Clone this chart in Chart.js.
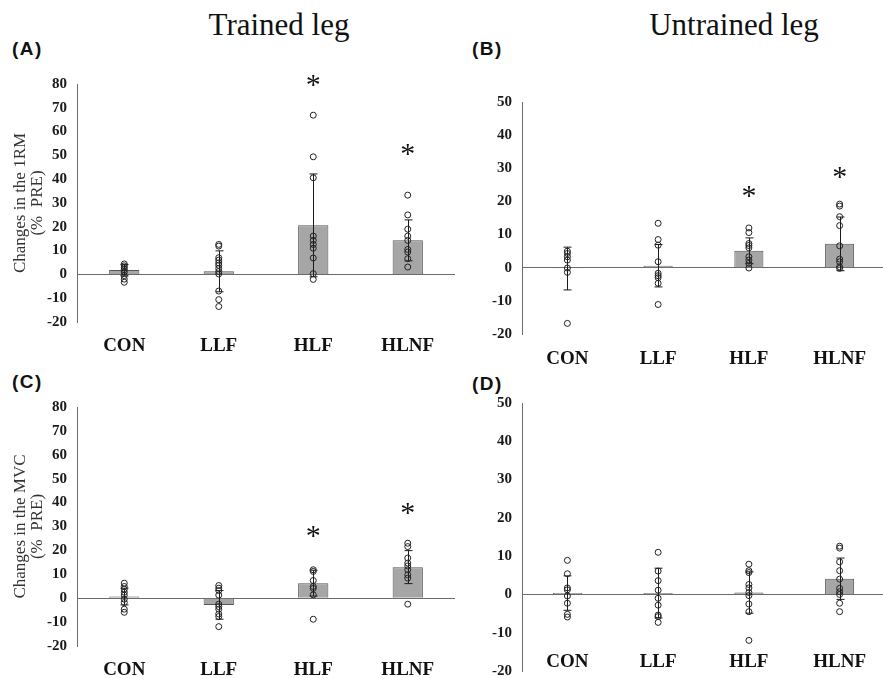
<!DOCTYPE html>
<html>
<head>
<meta charset="utf-8">
<script src="https://cdn.jsdelivr.net/npm/chart.js@4.4.0/dist/chart.umd.min.js"></script>
<style>
body { margin: 0; background: #fff; }
#page { position: relative; width: 883px; height: 678px; overflow: hidden; background: #fff; }
.box { position: absolute; }
.head { position: absolute; width: 200px; text-align: center; font-family: 'Liberation Serif', serif; font-size: 31px; line-height: 31px; color: #111; }
.tag { position: absolute; font-family: 'Liberation Sans', Arial, sans-serif; font-weight: bold; font-size: 19px; line-height: 19px; letter-spacing: 1.5px; color: #111; }
</style>
</head>
<body>
<div id="page">
  <div class="head" style="left:179px;top:9px">Trained leg</div>
  <div class="head" style="left:634px;top:9px">Untrained leg</div>
  <div class="tag" style="left:12px;top:39px">(A)</div>
  <div class="tag" style="left:472px;top:39px">(B)</div>
  <div class="tag" style="left:12px;top:372px">(C)</div>
  <div class="tag" style="left:472px;top:374px">(D)</div>

  <div class="box" style="left:0px;top:60px;width:460px;height:300px"><canvas id="chartA"></canvas></div>
  <div class="box" style="left:445px;top:60px;width:445px;height:310px"><canvas id="chartB"></canvas></div>
  <div class="box" style="left:0px;top:360px;width:460px;height:318px"><canvas id="chartC"></canvas></div>
  <div class="box" style="left:445px;top:360px;width:445px;height:330px"><canvas id="chartD"></canvas></div>
</div>

<script>
const groups = ['CON', 'LLF', 'HLF', 'HLNF'];

// (A) trained leg, 1RM
const meanA = [1.8, 1.3, 20.6, 14.3];
const sdA = [2.4, 8.6, 21.6, 8.6];
const ptsA = [
  [4.4, 3.6, 2.8, 2.0, 1.0, -0.5, -2.0, -3.3],
  [12.6, 11.9, 7.0, 6.0, 4.8, 3.8, 2.5, 1.2, 0.2, -7.0, -10.6, -13.5],
  [66.9, 49.4, 40.6, 16.1, 14.3, 12.6, 11.0, 6.9, 0.3, -2.1],
  [33.3, 25.0, 19.0, 16.1, 14.3, 10.5, 9.4, 6.6, 3.1]
];
const starA = [null, null, 82.5, 53.4];

// (B) untrained leg, 1RM
const meanB = [-0.25, 0.6, 5.1, 7.2];
const sdB = [6.45, 6.4, 3.9, 8.1];
const ptsB = [
  [5.0, 4.3, 3.3, 2.3, -0.1, -1.4, -16.8],
  [13.4, 8.5, 6.8, 1.8, -1.7, -2.4, -3.0, -4.7, -11.1],
  [12.0, 10.6, 7.3, 6.7, 6.0, 3.3, 2.3, 1.3, -0.1],
  [19.2, 18.6, 15.4, 12.7, 6.6, 2.6, 1.8, 0.3, -0.2]
];
const starB = [null, null, 23.9, 29.4];

// (C) trained leg, MVC
const meanC = [0.7, -2.8, 6.3, 13.0];
const sdC = [3.5, 6.0, 5.4, 6.9];
const ptsC = [
  [6.3, 4.9, 3.8, 2.5, 1.3, -0.4, -1.8, -4.6, -5.9],
  [5.3, 4.2, 3.2, 1.3, -2.5, -3.5, -4.6, -6.6, -7.7, -11.9],
  [11.9, 11.2, 7.4, 4.9, 4.1, 1.4, -8.8],
  [23.0, 21.6, 16.8, 14.7, 13.5, 11.9, 9.8, 8.4, -2.5]
];
const starC = [null, null, 29.1, 38.4];

// (D) untrained leg, MVC
const meanD = [0.35, 0.35, 0.5, 4.1];
const sdD = [4.5, 6.5, 5.4, 5.4];
const ptsD = [
  [8.9, 5.4, 1.7, 1.2, -0.4, -2.3, -5.2, -5.9],
  [11.0, 6.1, 3.6, 1.1, -1.0, -2.8, -5.4, -5.8, -7.3],
  [7.9, 6.2, 5.7, 2.6, 1.7, 0.5, -0.3, -2.5, -4.5, -12.0],
  [12.6, 12.1, 8.5, 6.2, 4.0, 1.6, 0.7, 0.0, -2.3, -4.5]
];
const starD = [null, null, null, null];

function makePanel(id, mean, sd, pts, stars, cfg) {
  // error bars + asterisks drawn on the chart's own scales
  const marks = {
    id: 'marks_' + id,
    afterDatasetDraw(chart, args) {
      if (args.index !== 0) return;
      const c = chart.ctx, xs = chart.scales.x, ys = chart.scales.y;
      c.save();
      c.strokeStyle = '#1a1a1a';
      c.lineWidth = 1;
      mean.forEach(function (m, i) {
        const px = Math.round(xs.getPixelForValue(i)) + 0.5;
        const top = ys.getPixelForValue(m + sd[i]);
        const bot = ys.getPixelForValue(m - sd[i]);
        c.beginPath();
        c.moveTo(px, top); c.lineTo(px, bot);
        c.moveTo(px - 4, top); c.lineTo(px + 4, top);
        c.moveTo(px - 4, bot); c.lineTo(px + 4, bot);
        c.stroke();
      });
      c.restore();
    },
    afterDatasetsDraw(chart) {
      const c = chart.ctx, xs = chart.scales.x, ys = chart.scales.y;
      c.save();
      c.fillStyle = '#111';
      c.font = '30px "Liberation Serif", serif';
      c.textAlign = 'center';
      c.textBaseline = 'alphabetic';
      stars.forEach(function (v, i) {
        if (v === null) return;
        c.fillText('*', xs.getPixelForValue(i), ys.getPixelForValue(v) + 16);
      });
      c.restore();
    }
  };

  const scatter = [];
  pts.forEach(function (arr, i) {
    arr.forEach(function (v) { scatter.push({ x: groups[i], y: v }); });
  });

  new Chart(document.getElementById(id), {
    type: 'bar',
    data: {
      labels: groups,
      datasets: [{
        label: 'mean',
        data: mean,
        backgroundColor: '#a6a6a6',
        borderColor: '#555',
        borderWidth: 1,
        barPercentage: 0.32,
        categoryPercentage: 1,
        order: 2
      }, {
        type: 'line',
        label: 'individual',
        data: scatter,
        showLine: false,
        pointRadius: 3,
        pointBorderWidth: 1,
        pointBorderColor: '#222',
        pointBackgroundColor: 'rgba(0,0,0,0)',
        order: 1
      }]
    },
    options: {
      responsive: true,
      maintainAspectRatio: false,
      animation: false,
      layout: { padding: { top: cfg.top, right: 0, left: 0, bottom: 0 } },
      plugins: { legend: { display: false }, tooltip: { enabled: false } },
      scales: {
        x: {
          grid: { display: false },
          border: { display: false },
          ticks: {
            color: '#111',
            padding: cfg.labelPad,
            mirror: !!cfg.inside,
            font: { family: '"Liberation Serif", serif', size: 19, weight: 'bold' }
          },
          afterFit: function (s) { s.height = cfg.xh; }
        },
        y: {
          min: -20,
          max: cfg.max,
          border: { display: true, color: '#6b6b6b', width: 1 },
          grid: {
            drawTicks: false,
            color: function (ctx) { return ctx.tick && ctx.tick.value === 0 ? '#6b6b6b' : 'rgba(0,0,0,0)'; }
          },
          ticks: {
            stepSize: 10,
            color: '#1a1a1a',
            padding: 10,
            font: { family: '"Liberation Serif", serif', size: 15, weight: 'bold' }
          },
          title: {
            display: !!cfg.title,
            text: cfg.title || '',
            color: '#333',
            padding: { top: 12, bottom: 0 },
            font: { family: '"Liberation Serif", serif', size: 17, lineHeight: 1 }
          },
          afterFit: function (s) { s.width = 77; }
        }
      }
    },
    plugins: [marks]
  });
}

makePanel('chartA', meanA, sdA, ptsA, starA, { top: 24, xh: 38, labelPad: 5, max: 80, title: ['Changes in the 1RM', '(%  PRE)'] });
makePanel('chartB', meanB, sdB, ptsB, starB, { top: 42, xh: 36, labelPad: 6, max: 50 });
makePanel('chartC', meanC, sdC, ptsC, starC, { top: 47, xh: 32, labelPad: 5, max: 80, title: ['Changes in the MVC', '(%  PRE)'] });
makePanel('chartD', meanD, sdD, ptsD, starD, { top: 43, xh: 17, labelPad: -2, max: 50, inside: true });
</script>
</body>
</html>
